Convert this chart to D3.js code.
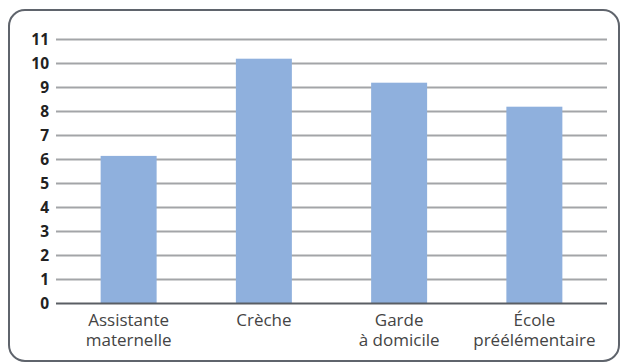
<!DOCTYPE html>
<html><head><meta charset="utf-8">
<script src="https://cdn.jsdelivr.net/npm/d3@7"></script>
<style>body{margin:0;background:#fff}svg{display:block}</style>
</head><body>
<svg id="c" width="620" height="364"></svg>
<script>
const categories = [["Assistante","maternelle"],["Crèche"],["Garde","à domicile"],["École","préélémentaire"]];
const values = [6.15, 10.2, 9.2, 8.2];
const yTicks = [0,1,2,3,4,5,6,7,8,9,10,11];

const svg = d3.select("#c");
const font = "'Open Sans', sans-serif";
svg.append("rect").attr("x",9).attr("y",10).attr("width",610).attr("height",351)
  .attr("rx",16).attr("fill","none").attr("stroke","#5f646c").attr("stroke-width",2);

const x = d3.scaleBand().domain(d3.range(categories.length)).range([56,607]).paddingInner(0.586).paddingOuter(0.33);
const y = d3.scaleLinear().domain([0,11]).range([303.5,39.5]);

const grid = svg.append("g");
grid.selectAll("line").data(yTicks.filter(d=>d>0)).join("line")
  .attr("x1",56).attr("x2",607).attr("y1",d=>y(d)).attr("y2",d=>y(d))
  .attr("stroke","#a3a5a8").attr("stroke-width",2);

svg.append("g").selectAll("rect").data(values).join("rect")
  .attr("x",(d,i)=>x(i)).attr("width",x.bandwidth())
  .attr("y",d=>y(d)).attr("height",d=>y(0)-y(d))
  .attr("fill","#8fb0dd");

svg.append("line").attr("x1",56).attr("x2",607).attr("y1",y(0)).attr("y2",y(0))
  .attr("stroke","#5a5e64").attr("stroke-width",2);

svg.append("g").selectAll("text").data(yTicks).join("text")
  .attr("x",49).attr("y",d=>y(d)+5.5).attr("text-anchor","end")
  .attr("font-family",font).attr("font-weight","bold").attr("font-size",15.5)
  .attr("fill","#222").text(d=>d);

const lab = svg.append("g").selectAll("g").data(categories).join("g")
  .attr("transform",(d,i)=>`translate(${x(i)+x.bandwidth()/2},0)`);
lab.selectAll("text").data(d=>d).join("text")
  .attr("x",0).attr("y",(d,i)=>326+i*20).attr("text-anchor","middle")
  .attr("font-family",font).attr("font-size",17).attr("fill","#444").text(d=>d);
</script>
</body></html>
